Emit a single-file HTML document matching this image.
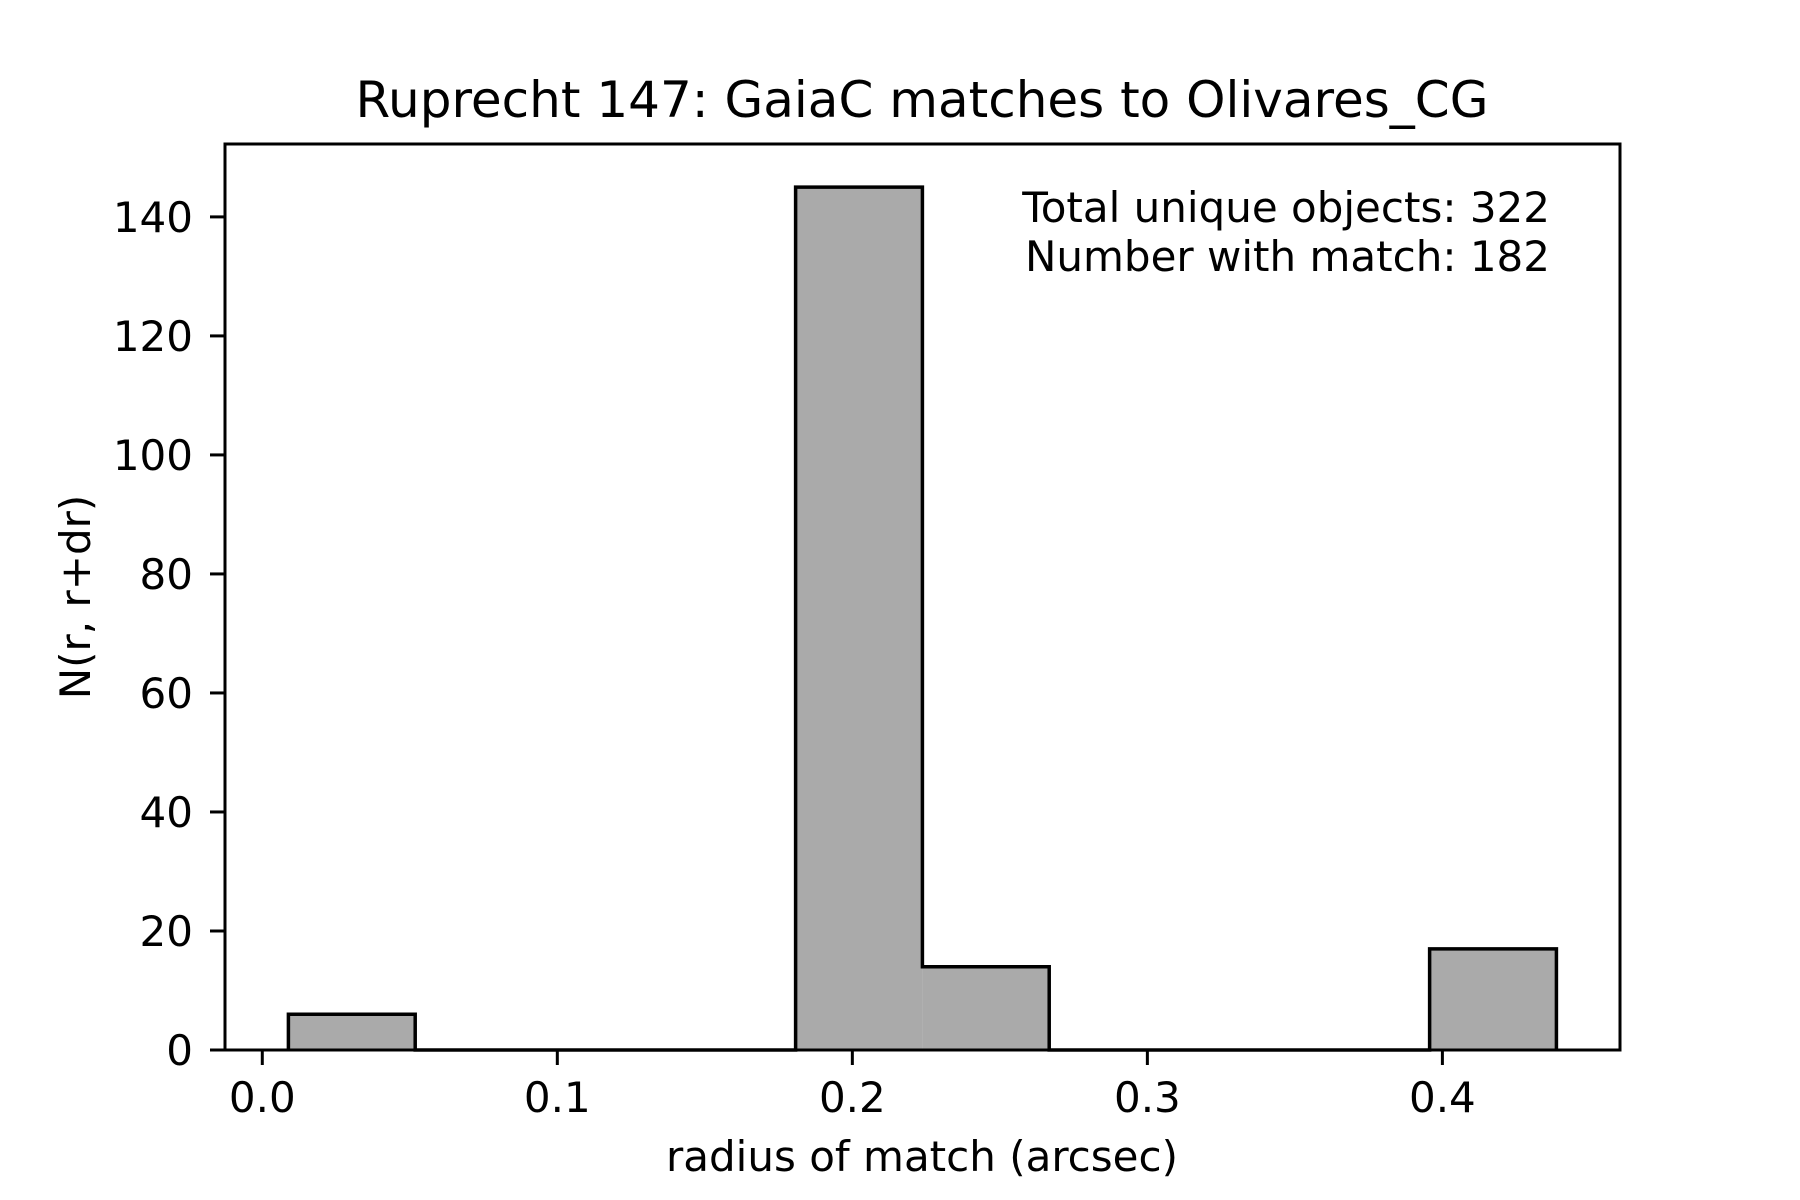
<!DOCTYPE html>
<html><head><meta charset="utf-8"><style>
html,body{margin:0;padding:0;background:#fff;}
svg{display:block;font-family:"DejaVu Sans","Liberation Sans",sans-serif;}
</style></head><body>
<svg id="chart" width="1800" height="1200" viewBox="0 0 1800 1200">
<rect width="1800" height="1200" fill="#fff"/>
<text x="922" y="117" font-size="50" text-anchor="middle">Ruprecht 147: GaiaC matches to Olivares_CG</text>
<g id="bars"></g>
<rect x="225" y="144" width="1395" height="906" fill="none" stroke="#000" stroke-width="3"/>
<g id="xticks"></g><g id="yticks"></g>
<text x="922" y="1171" font-size="42" text-anchor="middle">radius of match (arcsec)</text>
<text transform="translate(90,597) rotate(-90)" font-size="42" text-anchor="middle">N(r, r+dr)</text>
<text x="1550" y="222" font-size="42" text-anchor="end">Total unique objects: 322</text>
<text x="1550" y="271" font-size="42" text-anchor="end">Number with match: 182</text>
</svg>
<script>
const binStart = 0.00885;
const binWidth = 0.04298;
const counts = [6,0,0,0,145,14,0,0,0,17];
const xTicks = [0.0,0.1,0.2,0.3,0.4];
const xTickLabels = ["0.0","0.1","0.2","0.3","0.4"];
const yTicks = [0,20,40,60,80,100,120,140];
const NS="http://www.w3.org/2000/svg";
const X0=225,X1=1620,Y0=1050,Y1=144;
const xmin=-0.01264,xmax=0.4602,ymax=152.25;
const sx=v=>X0+(v-xmin)/(xmax-xmin)*(X1-X0);
const sy=v=>Y0-v/ymax*(Y0-Y1);
function mk(tag,attrs,parent){const e=document.createElementNS(NS,tag);for(const k in attrs)e.setAttribute(k,attrs[k]);parent.appendChild(e);return e;}
const bars=document.getElementById('bars');
let d="M"+sx(binStart)+","+sy(0);
counts.forEach((c,i)=>{const a=sx(binStart+i*binWidth),b=sx(binStart+(i+1)*binWidth);
 const r=mk('rect',{x:a,y:sy(c),width:b-a,height:sy(0)-sy(c),fill:'#aaaaaa'},bars);
 
 
 d+=" L"+a+","+sy(c)+" L"+b+","+sy(c);});
d+=" L"+sx(binStart+counts.length*binWidth)+","+sy(0);
const outline=mk('path',{d:d,fill:'none',stroke:'#000','stroke-width':3.5,'stroke-linejoin':'miter'},bars);


const xg=document.getElementById('xticks');
xTicks.forEach((t,i)=>{const x=sx(t);
 const l=mk('line',{x1:x,x2:x,y1:Y0,y2:Y0+15,stroke:'#000','stroke-width':3},xg);
 
 
 const tx=mk('text',{x:x,y:1112,'font-size':42,'text-anchor':'middle'},xg);tx.textContent=xTickLabels[i];
 
 });
const yg=document.getElementById('yticks');
yTicks.forEach(t=>{const y=sy(t);
 const l=mk('line',{x1:X0-15,x2:X0,y1:y,y2:y,stroke:'#000','stroke-width':3},yg);
 
 
 const tx=mk('text',{x:193,y:y+15,'font-size':42,'text-anchor':'end'},yg);tx.textContent=t;
 
 });
</script>
</body></html>
